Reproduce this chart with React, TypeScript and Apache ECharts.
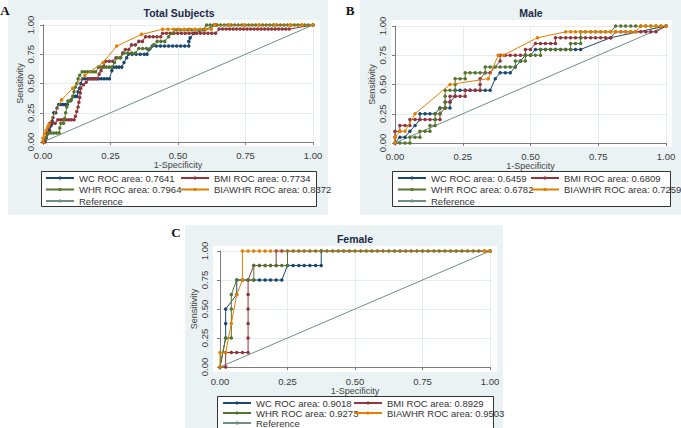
import { useEffect, useRef } from "react";
import * as echarts from "echarts";

// ---- data -------------------------------------------------------------
const tickValues = [0, 0.25, 0.5, 0.75, 1];
const panelTitles = ["Total Subjects", "Male", "Female"];
const panelLetters = ["A", "B", "C"];
const markerNames = ["WC", "BMI", "WHR", "BIAWHR"];

const totalAreas = [0.7641, 0.7734, 0.7964, 0.8372];
const maleAreas = [0.6459, 0.6809, 0.6782, 0.7259];
const femaleAreas = [0.9018, 0.8929, 0.9273, 0.9503];

const referenceLine = [[0, 0], [1, 1]];

// Total subjects: [1-specificity, sensitivity]
const totalWC = [[0,0],[0.006,0.006],[0.012,0.035],[0.018,0.07],[0.024,0.1],[0.03,0.14],[0.034,0.18],[0.037,0.21],[0.04,0.25],[0.047,0.25],[0.052,0.29],[0.058,0.32],[0.066,0.32],[0.074,0.32],[0.082,0.32],[0.09,0.32],[0.104,0.36],[0.118,0.39],[0.126,0.39],[0.13,0.43],[0.135,0.46],[0.14,0.5],[0.146,0.54],[0.156,0.54],[0.166,0.54],[0.176,0.54],[0.186,0.54],[0.196,0.54],[0.206,0.54],[0.216,0.54],[0.226,0.54],[0.236,0.54],[0.246,0.54],[0.255,0.61],[0.262,0.64],[0.272,0.64],[0.282,0.64],[0.292,0.64],[0.3,0.68],[0.31,0.72],[0.316,0.75],[0.33,0.75],[0.345,0.75],[0.36,0.75],[0.375,0.75],[0.385,0.75],[0.392,0.79],[0.405,0.82],[0.42,0.82],[0.435,0.82],[0.45,0.82],[0.465,0.82],[0.48,0.82],[0.495,0.82],[0.51,0.82],[0.525,0.82],[0.54,0.82],[0.54,0.86],[0.545,0.89],[0.56,0.93],[0.6,0.96],[0.64,1],[1,1]];
const totalBMI = [[0,0],[0.008,0],[0.012,0.04],[0.015,0.08],[0.02,0.12],[0.025,0.16],[0.035,0.16],[0.045,0.16],[0.055,0.19],[0.065,0.19],[0.075,0.19],[0.085,0.19],[0.095,0.19],[0.105,0.19],[0.115,0.19],[0.12,0.22],[0.125,0.26],[0.13,0.3],[0.133,0.34],[0.136,0.38],[0.138,0.42],[0.14,0.46],[0.15,0.49],[0.16,0.51],[0.17,0.54],[0.18,0.54],[0.19,0.54],[0.2,0.54],[0.208,0.58],[0.215,0.61],[0.225,0.65],[0.232,0.69],[0.245,0.69],[0.258,0.69],[0.27,0.72],[0.285,0.72],[0.295,0.76],[0.305,0.79],[0.318,0.79],[0.328,0.83],[0.342,0.83],[0.355,0.86],[0.368,0.86],[0.38,0.9],[0.394,0.9],[0.408,0.9],[0.422,0.9],[0.436,0.9],[0.443,0.93],[0.457,0.93],[0.471,0.93],[0.485,0.93],[0.499,0.93],[0.513,0.93],[0.527,0.93],[0.541,0.93],[0.555,0.93],[0.569,0.93],[0.583,0.93],[0.597,0.93],[0.611,0.93],[0.625,0.93],[0.639,0.93],[0.652,0.965],[0.665,0.965],[0.678,0.965],[0.691,0.965],[0.704,0.965],[0.717,0.965],[0.73,0.965],[0.743,0.965],[0.756,0.965],[0.769,0.965],[0.782,0.965],[0.795,0.965],[0.808,0.965],[0.821,0.965],[0.834,0.965],[0.847,0.965],[0.86,0.965],[0.873,0.965],[0.886,0.965],[0.899,0.965],[0.912,0.965],[1,1]];
const totalWHR = [[0,0],[0.012,0.04],[0.02,0.077],[0.03,0.077],[0.04,0.077],[0.05,0.077],[0.06,0.077],[0.062,0.12],[0.066,0.16],[0.076,0.16],[0.08,0.2],[0.084,0.25],[0.088,0.3],[0.092,0.35],[0.102,0.35],[0.11,0.39],[0.115,0.43],[0.12,0.47],[0.125,0.5],[0.13,0.54],[0.136,0.57],[0.145,0.6],[0.155,0.6],[0.165,0.6],[0.175,0.6],[0.185,0.6],[0.195,0.6],[0.205,0.64],[0.215,0.64],[0.225,0.64],[0.235,0.64],[0.245,0.64],[0.255,0.64],[0.265,0.68],[0.275,0.72],[0.288,0.72],[0.3,0.76],[0.314,0.76],[0.328,0.76],[0.342,0.76],[0.355,0.8],[0.369,0.8],[0.383,0.8],[0.397,0.8],[0.41,0.83],[0.423,0.86],[0.437,0.86],[0.451,0.86],[0.465,0.9],[0.48,0.93],[0.494,0.96],[0.508,0.96],[0.522,0.96],[0.536,0.96],[0.55,0.96],[0.564,0.96],[0.578,0.96],[0.592,0.96],[0.606,1],[0.619,1],[0.632,1],[0.645,1],[0.658,1],[0.671,1],[0.684,1],[0.697,1],[0.71,1],[0.723,1],[0.736,1],[0.749,1],[0.762,1],[0.775,1],[0.788,1],[0.801,1],[0.814,1],[0.827,1],[0.84,1],[0.853,1],[0.866,1],[0.879,1],[0.892,1],[0.905,1],[0.918,1],[0.931,1],[0.944,1],[0.957,1],[0.97,1],[0.983,1],[1,1]];
const totalBIAWHR = [[0,0],[0,0.035],[0.006,0.07],[0.012,0.1],[0.018,0.13],[0.022,0.15],[0.069,0.36],[0.11,0.46],[0.155,0.57],[0.223,0.68],[0.273,0.82],[0.365,0.92],[0.443,0.964],[0.463,0.964],[0.483,0.964],[0.503,0.964],[0.523,0.964],[0.543,0.964],[0.563,0.964],[0.583,0.964],[0.603,0.964],[0.623,0.964],[0.636,1],[0.69,1],[0.745,1],[0.8,1],[0.86,1],[0.915,1],[0.96,1],[1,1]];

// Male
const maleWC = [[0,0],[0.018,0.05],[0.037,0.05],[0.055,0.1],[0.074,0.15],[0.092,0.2],[0.092,0.25],[0.111,0.25],[0.129,0.25],[0.148,0.25],[0.166,0.3],[0.185,0.3],[0.203,0.3],[0.203,0.35],[0.222,0.4],[0.222,0.45],[0.24,0.45],[0.259,0.45],[0.277,0.45],[0.296,0.45],[0.314,0.45],[0.333,0.45],[0.351,0.45],[0.37,0.55],[0.388,0.6],[0.407,0.6],[0.425,0.6],[0.444,0.65],[0.463,0.7],[0.481,0.75],[0.5,0.75],[0.518,0.8],[0.537,0.8],[0.555,0.8],[0.574,0.8],[0.592,0.8],[0.611,0.8],[0.63,0.8],[0.648,0.8],[0.666,0.8],[0.685,0.8],[0.796,0.9],[1,1]];
const maleBMI = [[0,0],[0,0.05],[0,0.1],[0.018,0.1],[0.018,0.15],[0.037,0.15],[0.055,0.15],[0.055,0.2],[0.074,0.2],[0.092,0.2],[0.111,0.2],[0.129,0.2],[0.148,0.2],[0.166,0.2],[0.166,0.25],[0.185,0.3],[0.185,0.35],[0.203,0.35],[0.203,0.4],[0.222,0.4],[0.24,0.4],[0.259,0.4],[0.259,0.45],[0.277,0.45],[0.296,0.45],[0.314,0.45],[0.314,0.5],[0.314,0.55],[0.333,0.6],[0.351,0.6],[0.388,0.7],[0.388,0.75],[0.407,0.75],[0.425,0.75],[0.444,0.75],[0.463,0.75],[0.481,0.75],[0.481,0.8],[0.5,0.8],[0.518,0.85],[0.537,0.85],[0.555,0.85],[0.574,0.85],[0.592,0.85],[0.592,0.9],[0.611,0.9],[0.63,0.9],[0.648,0.9],[0.666,0.9],[0.685,0.9],[0.703,0.9],[0.722,0.9],[0.74,0.9],[0.759,0.9],[0.777,0.9],[0.796,0.9],[0.814,0.95],[0.833,0.95],[0.851,0.95],[0.87,0.95],[0.888,0.95],[0.907,0.95],[0.925,0.95],[0.944,0.95],[0.963,0.95],[1,1]];
const maleWHR = [[0,0],[0.018,0],[0.037,0],[0.055,0],[0.055,0.05],[0.074,0.05],[0.092,0.05],[0.092,0.1],[0.111,0.1],[0.129,0.1],[0.129,0.15],[0.148,0.15],[0.148,0.2],[0.148,0.25],[0.166,0.25],[0.166,0.3],[0.185,0.3],[0.185,0.35],[0.185,0.4],[0.185,0.45],[0.203,0.45],[0.222,0.45],[0.222,0.5],[0.222,0.55],[0.24,0.55],[0.259,0.55],[0.259,0.6],[0.277,0.6],[0.296,0.6],[0.314,0.6],[0.333,0.6],[0.333,0.65],[0.351,0.65],[0.37,0.65],[0.388,0.65],[0.407,0.65],[0.425,0.65],[0.444,0.65],[0.444,0.7],[0.463,0.7],[0.481,0.7],[0.481,0.75],[0.5,0.75],[0.518,0.75],[0.537,0.75],[0.537,0.8],[0.555,0.8],[0.574,0.8],[0.592,0.8],[0.611,0.8],[0.63,0.8],[0.648,0.8],[0.648,0.85],[0.666,0.85],[0.685,0.85],[0.685,0.9],[0.685,0.95],[0.703,0.95],[0.722,0.95],[0.74,0.95],[0.759,0.95],[0.777,0.95],[0.796,0.95],[0.814,1],[0.833,1],[0.851,1],[0.87,1],[0.888,1],[0.907,1],[0.925,1],[0.944,1],[0.963,1],[0.981,1],[1,1]];
const maleBIAWHR = [[0,0],[0,0.05],[0.018,0.1],[0.037,0.1],[0.074,0.25],[0.203,0.5],[0.344,0.55],[0.381,0.75],[0.4,0.75],[0.526,0.9],[0.63,0.95],[0.648,0.95],[0.666,0.95],[0.685,0.95],[0.703,0.95],[0.722,0.95],[0.74,0.95],[0.759,0.95],[0.777,0.95],[0.796,0.95],[0.814,0.95],[0.833,0.95],[0.851,0.95],[0.87,0.95],[0.888,0.95],[0.907,1],[0.925,1],[0.944,1],[0.963,1],[0.981,1],[1,1]];

// Female
const femaleWC = [[0,0],[0.021,0.25],[0.021,0.375],[0.021,0.5],[0.062,0.625],[0.062,0.75],[0.083,0.75],[0.104,0.75],[0.125,0.75],[0.146,0.75],[0.167,0.75],[0.187,0.75],[0.208,0.75],[0.229,0.75],[0.25,0.875],[0.271,0.875],[0.292,0.875],[0.312,0.875],[0.333,0.875],[0.354,0.875],[0.375,0.875],[0.375,1],[1,1]];
const femaleBMI = [[0,0],[0.021,0],[0.021,0.125],[0.042,0.125],[0.062,0.125],[0.083,0.125],[0.104,0.125],[0.104,0.25],[0.104,0.375],[0.104,0.5],[0.104,0.625],[0.104,0.75],[0.125,0.875],[0.146,0.875],[0.167,0.875],[0.187,0.875],[0.208,0.875],[0.208,1],[0.229,1],[1,1]];
const femaleWHR = [[0,0],[0.021,0.25],[0.042,0.25],[0.042,0.5],[0.042,0.625],[0.062,0.75],[0.083,0.75],[0.104,0.75],[0.125,0.75],[0.125,0.875],[0.146,0.875],[0.167,0.875],[0.187,0.875],[0.208,0.875],[0.229,0.875],[0.25,0.875],[0.25,1],[0.271,1],[0.292,1],[0.312,1],[0.333,1],[0.354,1],[0.375,1],[0.396,1],[0.417,1],[0.438,1],[0.458,1],[0.479,1],[0.5,1],[0.521,1],[0.542,1],[0.562,1],[0.583,1],[0.604,1],[0.625,1],[0.646,1],[0.667,1],[0.688,1],[0.708,1],[0.729,1],[0.75,1],[0.771,1],[0.792,1],[0.812,1],[0.833,1],[0.854,1],[0.875,1],[0.896,1],[0.917,1],[0.938,1],[0.958,1],[0.979,1],[1,1]];
const femaleBIAWHR = [[0,0],[0,0.125],[0.021,0.125],[0.042,0.375],[0.062,0.625],[0.083,0.75],[0.083,1],[0.104,1],[0.125,1],[0.146,1],[0.167,1],[0.187,1],[0.979,1],[1,1]];

const panelAreas = [totalAreas, maleAreas, femaleAreas];
const panelCurves = [
  [totalWC, totalBMI, totalWHR, totalBIAWHR],
  [maleWC, maleBMI, maleWHR, maleBIAWHR],
  [femaleWC, femaleBMI, femaleWHR, femaleBIAWHR],
];

// ---- styling ----------------------------------------------------------
const seriesColors = ["#1a476f", "#90353b", "#55752f", "#e37e00"];
const referenceColor = "#6e8e84";
const panelBg = "#eaf2f3";
const font = "'Liberation Sans', Arial, sans-serif";

const layouts = [
  { bg: [8, 0, 320, 215], plot: [39, 20, 281, 126], grid: { left: 43, top: 25, width: 270, height: 117 }, yOff: 4, xOff: 4, box: [41, 171, 275, 35], legendTop: 173, gap: 1.5, col1: 45, col2: 180, title: [179, 13], letter: [5, 10] },
  { bg: [360, 0, 321, 215], plot: [391, 20, 281, 127], grid: { left: 395, top: 26, width: 271, height: 117 }, yOff: 4, xOff: 4, box: [392, 171, 278, 35], legendTop: 173, gap: 1.5, col1: 397, col2: 530, title: [531, 13], letter: [350, 10] },
  { bg: [185, 225, 318, 203], plot: [213, 246, 284, 126], grid: { left: 220, top: 251, width: 270, height: 116 }, yOff: 7, xOff: 5, box: [217, 396, 276, 40], legendTop: 398, gap: 0, col1: 222, col2: 353, title: [355, 239], letter: [176, 232] },
];

function seriesName(i: number, area: number) {
  return `${markerNames[i]} ROC area: ${area.toFixed(4)}`;
}

function buildOption() {
  const grid: any[] = [];
  const xAxis: any[] = [];
  const yAxis: any[] = [];
  const series: any[] = [];
  const legend: any[] = [];
  const elements: any[] = [];

  const axisCommon = {
    type: "value",
    min: tickValues[0],
    max: tickValues[tickValues.length - 1],
    interval: tickValues[1] - tickValues[0],
    axisLine: { show: true, lineStyle: { color: "#7d7d7d", width: 1 } },
    axisTick: { show: true, inside: false, length: 3, lineStyle: { color: "#7d7d7d" } },
    splitLine: { show: true, lineStyle: { color: "#e5ecee", width: 1 } },
    nameLocation: "middle",
    nameTextStyle: { fontSize: 9, color: "#444", fontFamily: font },
  };
  const labelCommon = {
    fontSize: 9.5,
    color: "#3a3a3a",
    fontFamily: font,
    showMinLabel: true,
    showMaxLabel: true,
    formatter: (v: number) => v.toFixed(2),
  };

  layouts.forEach((L, p) => {
    grid.push({ ...L.grid, show: false, containLabel: false, outerBoundsMode: "none" });
    xAxis.push({
      ...axisCommon,
      gridIndex: p,
      offset: L.xOff,
      name: "1-Specificity",
      nameGap: 11,
      axisLabel: { ...labelCommon, margin: 4 },
    });
    yAxis.push({
      ...axisCommon,
      gridIndex: p,
      offset: L.yOff,
      name: "Sensitivity",
      nameGap: 13,
      axisLabel: { ...labelCommon, margin: 4, rotate: 90 },
    });

    const names = panelAreas[p].map((a, i) => seriesName(i, a));
    panelCurves[p].forEach((curve, i) => {
      series.push({
        type: "line",
        name: names[i],
        xAxisIndex: p,
        yAxisIndex: p,
        data: curve,
        symbol: "circle",
        symbolSize: 3.5,
        showSymbol: true,
        lineStyle: { width: 1, color: seriesColors[i] },
        itemStyle: { color: seriesColors[i] },
        emphasis: { disabled: true },
        z: 3 + i,
      });
    });
    series.push({
      type: "line",
      name: "Reference",
      xAxisIndex: p,
      yAxisIndex: p,
      data: referenceLine,
      symbol: "none",
      lineStyle: { width: 1, color: referenceColor },
      itemStyle: { color: referenceColor },
      emphasis: { disabled: true },
      z: 2,
    });

    const legendCommon = {
      orient: "vertical",
      top: L.legendTop,
      itemWidth: 28,
      itemHeight: 4,
      itemGap: L.gap,
      padding: 0,
      selectedMode: false,
      textStyle: { fontSize: 9.5, color: "#333", fontFamily: font, lineHeight: 10 },
    };
    legend.push({ ...legendCommon, left: L.col1, data: [names[0], names[2], "Reference"] });
    legend.push({ ...legendCommon, left: L.col2, data: [names[1], names[3]] });

    const [bx, by, bw, bh] = L.bg;
    elements.push({ type: "rect", silent: true, z: -20, shape: { x: bx, y: by, width: bw, height: bh }, style: { fill: panelBg } });
    const [px, py, pw, ph] = L.plot;
    elements.push({ type: "rect", silent: true, z: -15, shape: { x: px, y: py, width: pw, height: ph }, style: { fill: "#ffffff" } });
    const [lx, ly, lw, lh] = L.box;
    elements.push({ type: "rect", silent: true, z: -10, shape: { x: lx + 0.5, y: ly + 0.5, width: lw, height: lh }, style: { fill: "#ffffff", stroke: "#333333", lineWidth: 1 } });
    elements.push({
      type: "text", silent: true, z: 10, x: L.title[0], y: L.title[1],
      style: { text: panelTitles[p], fill: "#1e2a48", fontSize: 10.5, fontWeight: "bold", fontFamily: font, align: "center", verticalAlign: "middle" },
    });
    elements.push({
      type: "text", silent: true, z: 10, x: L.letter[0], y: L.letter[1],
      style: { text: panelLetters[p], fill: "#111", fontSize: 13, fontWeight: "bold", fontFamily: "'Liberation Serif', 'Times New Roman', serif", align: "center", verticalAlign: "middle" },
    });
  });

  return {
    animation: false,
    backgroundColor: "#ffffff",
    grid,
    xAxis,
    yAxis,
    series,
    legend,
    graphic: { elements },
  };
}

export default function App() {
  const ref = useRef<HTMLDivElement>(null);
  useEffect(() => {
    if (!ref.current) return;
    const chart = echarts.init(ref.current, undefined, { renderer: "svg" });
    chart.setOption(buildOption() as any);
    return () => chart.dispose();
  }, []);
  return (
    <div
      ref={ref}
      style={{ position: "absolute", left: 0, top: 0, width: 681, height: 428 }}
    />
  );
}
